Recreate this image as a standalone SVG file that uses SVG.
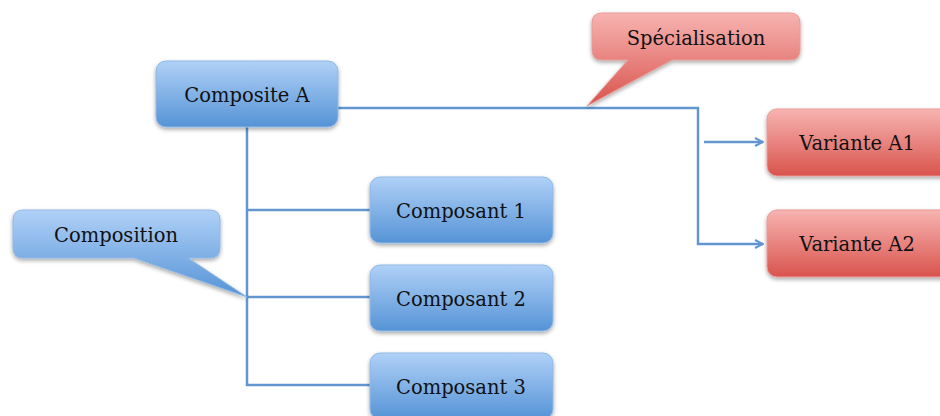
<svg xmlns="http://www.w3.org/2000/svg" width="940" height="416" viewBox="0 0 940 416">
<defs>
<linearGradient id="gb" x1="0" y1="0" x2="0" y2="1">
<stop offset="0" stop-color="#b0d1f7"/>
<stop offset="1" stop-color="#5593d6"/>
</linearGradient>
<linearGradient id="gr" x1="0" y1="0" x2="0" y2="1">
<stop offset="0" stop-color="#f7b4b1"/>
<stop offset="1" stop-color="#d9534d"/>
</linearGradient>
<filter id="sh" x="-10%" y="-10%" width="130%" height="140%">
<feGaussianBlur in="SourceAlpha" stdDeviation="2"/>
<feOffset dx="0" dy="2" result="b"/>
<feComponentTransfer><feFuncA type="linear" slope="0.35"/></feComponentTransfer>
<feMerge><feMergeNode/><feMergeNode in="SourceGraphic"/></feMerge>
</filter>
<marker id="ar" viewBox="0 0 10 10" refX="9" refY="5" markerWidth="10" markerHeight="10" markerUnits="userSpaceOnUse" orient="auto">
<path d="M1,1 L9,5 L1,9" fill="none" stroke="#6396d0" stroke-width="2"/>
</marker>
</defs>
<style>
.b{fill:url(#gb);stroke:#8fb8e6;stroke-width:1;filter:url(#sh)}
.r{fill:url(#gr);stroke:#e99a97;stroke-width:1;filter:url(#sh)}
.t{font-family:"DejaVu Serif","Liberation Serif",serif;font-size:19.5px;fill:#111;text-anchor:middle}
.c{fill:none;stroke:#6396d0;stroke-width:2.5}
</style>
<rect width="940" height="416" fill="#fff"/>
<g id="connectors">
<path class="c" d="M338,108 H698 V244 H763" marker-end="url(#ar)"/>
<path class="c" d="M704,142 H763" marker-end="url(#ar)"/>
<path class="c" d="M247,127 V385 H370"/>
<path class="c" d="M247,210 H370"/>
<path class="c" d="M247,297 H370"/>
</g>
<g id="composite-a">
<rect class="b" x="156" y="61" width="182" height="66" rx="10"/>
<text class="t" x="247" y="102">Composite A</text>
</g>
<g id="composant-1">
<rect class="b" x="370" y="177" width="183" height="66" rx="10"/>
<text class="t" x="461" y="218">Composant 1</text>
</g>
<g id="composant-2">
<rect class="b" x="370" y="265" width="183" height="66" rx="10"/>
<text class="t" x="461" y="306">Composant 2</text>
</g>
<g id="composant-3">
<rect class="b" x="370" y="353" width="183" height="66" rx="10"/>
<text class="t" x="461" y="394">Composant 3</text>
</g>
<g id="variante-a1">
<rect class="r" x="767" y="109" width="190" height="67" rx="10"/>
<text class="t" x="857" y="150">Variante A1</text>
</g>
<g id="variante-a2">
<rect class="r" x="767" y="210" width="190" height="67" rx="10"/>
<text class="t" x="857" y="251">Variante A2</text>
</g>
<g id="specialisation">
<path class="r" d="M602,13 H790 Q800,13 800,23 V50 Q800,60 790,60 H672 L587,106 L628,60 H602 Q592,60 592,50 V23 Q592,13 602,13 Z"/>
<text class="t" x="696" y="45">Spécialisation</text>
</g>
<g id="composition">
<path class="b" d="M23,210 H210 Q220,210 220,220 V248 Q220,258 210,258 H188 L247,297 L134,258 H23 Q13,258 13,248 V220 Q13,210 23,210 Z"/>
<text class="t" x="116" y="242">Composition</text>
</g>
</svg>
